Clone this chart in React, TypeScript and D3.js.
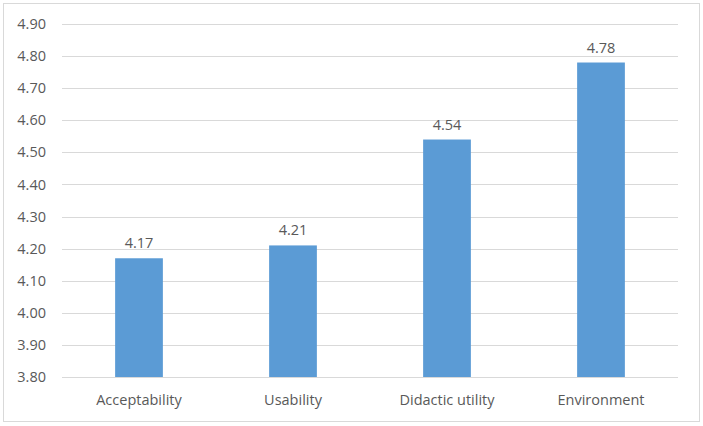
import React from "react";
import * as d3 from "d3";

const categories = ["Acceptability", "Usability", "Didactic utility", "Environment"];
const values = [4.17, 4.21, 4.54, 4.78];
const yTicks = [3.8, 3.9, 4.0, 4.1, 4.2, 4.3, 4.4, 4.5, 4.6, 4.7, 4.8, 4.9];

const W = 703;
const H = 426;
const margin = { left: 62, right: 25, top: 24, bottom: 49 };

export default function App() {
  const x = d3
    .scaleBand<string>()
    .domain(categories)
    .range([margin.left, W - margin.right])
    .paddingInner(0.69)
    .paddingOuter(0.345);
  const y = d3.scaleLinear().domain([3.8, 4.9]).range([H - margin.bottom, margin.top]);
  const font = "'Open Sans', 'Noto Sans', sans-serif";
  const textColor = "#595959";
  const fs = 14.5;

  return (
    <div style={{ position: "absolute", left: 0, top: 0 }}>
      <svg width={W} height={H} style={{ display: "block", background: "#fff" }}>
        <rect x={3.5} y={3.5} width={W - 7} height={H - 8} fill="#fff" stroke="#d9d9d9" strokeWidth={1} />
        {yTicks.map((t) => (
          <g key={t}>
            <line
              x1={margin.left}
              x2={W - margin.right}
              y1={Math.round(y(t)) + 0.5}
              y2={Math.round(y(t)) + 0.5}
              stroke="#d9d9d9"
              strokeWidth={1}
            />
            <text
              x={46}
              y={y(t)}
              dy="0.35em"
              textAnchor="end"
              fontFamily={font}
              fontSize={fs}
              fill={textColor}
            >
              {t.toFixed(2)}
            </text>
          </g>
        ))}
        {categories.map((c, i) => (
          <g key={c}>
            <rect
              x={x(c)}
              y={y(values[i])}
              width={x.bandwidth()}
              height={y(3.8) - y(values[i])}
              fill="#5b9bd5"
            />
            <text
              x={(x(c) as number) + x.bandwidth() / 2}
              y={y(values[i]) - 10}
              textAnchor="middle"
              fontFamily={font}
              fontSize={fs}
              fill={textColor}
            >
              {values[i].toFixed(2)}
            </text>
            <text
              x={(x(c) as number) + x.bandwidth() / 2}
              y={H - margin.bottom + 23}
              dy="0.35em"
              textAnchor="middle"
              fontFamily={font}
              fontSize={fs}
              fill={textColor}
            >
              {c}
            </text>
          </g>
        ))}
      </svg>
    </div>
  );
}
